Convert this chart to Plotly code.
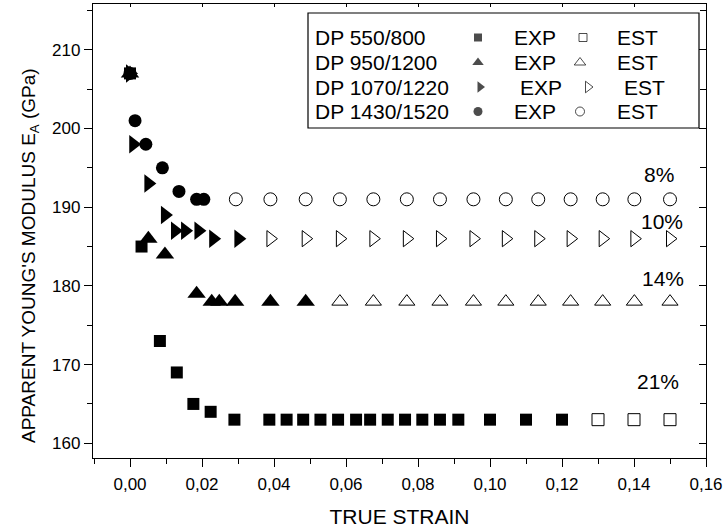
import plotly.graph_objects as go

# ---------------- data ----------------
# DP 550/800
sq_exp_x = [0.0, 0.0032, 0.0083, 0.013, 0.0176, 0.0224, 0.029, 0.0387, 0.0435, 0.0481,
            0.0529, 0.0578, 0.0628, 0.0667, 0.0716, 0.0764, 0.0812, 0.0861, 0.0912,
            0.10, 0.11, 0.12]
sq_exp_y = [207, 185, 173, 169, 165, 164, 163, 163, 163, 163,
            163, 163, 163, 163, 163, 163, 163, 163, 163,
            163, 163, 163]
sq_est_x = [0.13, 0.14, 0.15]
sq_est_y = [163, 163, 163]

# DP 950/1200
tu_exp_x = [0.0, 0.0051, 0.0097, 0.0185, 0.0227, 0.0248, 0.0292, 0.039, 0.0488]
tu_exp_y = [207, 186, 184, 179, 178, 178, 178, 178, 178]
tu_est_x = [0.0583, 0.0676, 0.0769, 0.0861, 0.0954, 0.1044, 0.1134, 0.1224, 0.1313, 0.1401, 0.15]
tu_est_y = [178, 178, 178, 178, 178, 178, 178, 178, 178, 178, 178]

# DP 1070/1220
tr_exp_x = [0.0, 0.0009, 0.0051, 0.0097, 0.0125, 0.0153, 0.019, 0.0231, 0.0301]
tr_exp_y = [207, 198, 193, 189, 187, 187, 187, 186, 186]
tr_est_x = [0.039, 0.0488, 0.0583, 0.0676, 0.0769, 0.0861, 0.0954, 0.1044, 0.1134,
            0.1224, 0.1313, 0.1401, 0.15]
tr_est_y = [186, 186, 186, 186, 186, 186, 186, 186, 186, 186, 186, 186, 186]

# DP 1430/1520
ci_exp_x = [0.0, 0.0014, 0.0044, 0.009, 0.0136, 0.0185, 0.0205]
ci_exp_y = [207, 201, 198, 195, 192, 191, 191]
ci_est_x = [0.0294, 0.039, 0.0488, 0.0583, 0.0676, 0.0769, 0.0861, 0.0954, 0.1044,
            0.1134, 0.1224, 0.1313, 0.1401, 0.15]
ci_est_y = [191, 191, 191, 191, 191, 191, 191, 191, 191, 191, 191, 191, 191, 191]

series_names = ["DP 550/800", "DP 950/1200", "DP 1070/1220", "DP 1430/1520"]
pct_labels = ["8%", "10%", "14%", "21%"]
pct_x = [0.147, 0.1477, 0.148, 0.1467]
pct_y = [194.1, 188.2, 181.0, 167.9]

FONT = "Liberation Sans, Arial, sans-serif"
BLACK = "black"

fig = go.Figure()

def add(x, y, symbol, size, filled):
    if filled:
        m = dict(symbol=symbol, size=size, color=BLACK, line=dict(width=0))
    else:
        m = dict(symbol=symbol, size=size, color=BLACK, line=dict(width=1, color=BLACK))
    fig.add_trace(go.Scatter(x=x, y=y, mode="markers", marker=m,
                             showlegend=False, hoverinfo="x+y"))

add(sq_est_x, sq_est_y, "square-open", 12, False)
add(tu_est_x, tu_est_y, "triangle-up-open", 14, False)
add(tr_est_x, tr_est_y, "triangle-right-open", 14, False)
add(ci_est_x, ci_est_y, "circle-open", 13, False)
add(sq_exp_x, sq_exp_y, "square", 12, True)
add(tu_exp_x, tu_exp_y, "triangle-up", 16, True)
add(tr_exp_x, tr_exp_y, "triangle-right", 16, True)
add(ci_exp_x, ci_exp_y, "circle", 13, True)

# dummy trace so mirrored top/right axes get drawn
fig.add_trace(go.Scatter(x=[None], y=[None], xaxis="x2", yaxis="y2",
                         showlegend=False, hoverinfo="skip"))

# ---------------- legend (drawn in pixel coordinates on hidden axes x3/y3) ----------------
row_y = [37.5, 62.5, 87, 111.5]
exp_sym = ["square", "triangle-up", "triangle-right", "circle"]
est_sym = ["square-open", "triangle-up-open", "triangle-right-open", "circle-open"]
exp_mx = [478, 478, 480, 478]
est_mx = [583, 580, 588, 580]
exp_tx = [512, 512, 518, 512]
est_tx = [615, 615, 622, 615]
leg_sizes = [8, 10, 10, 9]

fig.add_trace(go.Scatter(x=exp_mx, y=row_y, mode="markers", xaxis="x3", yaxis="y3",
                         marker=dict(symbol=exp_sym, size=leg_sizes, color=BLACK, line=dict(width=0)),
                         showlegend=False, hoverinfo="skip"))
fig.add_trace(go.Scatter(x=est_mx, y=row_y, mode="markers", xaxis="x3", yaxis="y3",
                         marker=dict(symbol=est_sym, size=leg_sizes, color=BLACK,
                                     line=dict(width=1, color=BLACK)),
                         showlegend=False, hoverinfo="skip"))

annotations = []
LEG_FS = 21
for i, name in enumerate(series_names):
    annotations.append(dict(x=313, y=row_y[i], xref="x3", yref="y3", text=name,
                            showarrow=False, xanchor="left", yanchor="middle",
                            font=dict(family=FONT, size=LEG_FS, color=BLACK)))
    annotations.append(dict(x=exp_tx[i], y=row_y[i], xref="x3", yref="y3", text="EXP",
                            showarrow=False, xanchor="left", yanchor="middle",
                            font=dict(family=FONT, size=LEG_FS, color=BLACK)))
    annotations.append(dict(x=est_tx[i], y=row_y[i], xref="x3", yref="y3", text="EST",
                            showarrow=False, xanchor="left", yanchor="middle",
                            font=dict(family=FONT, size=LEG_FS, color=BLACK)))
for t, x, y in zip(pct_labels, pct_x, pct_y):
    annotations.append(dict(x=x, y=y, xref="x", yref="y", text=t, showarrow=False,
                            xanchor="center", yanchor="middle",
                            font=dict(family=FONT, size=21, color=BLACK)))

# y-axis title, placed like the original (a little below the plot centre)
PLOT_L, PLOT_R, PLOT_T, PLOT_B = 93, 706, 4, 458
ytitle_px, ytitle_py = 30, 256
annotations.append(dict(x=(ytitle_px - PLOT_L) / (PLOT_R - PLOT_L),
                        y=1 - (ytitle_py - PLOT_T) / (PLOT_B - PLOT_T),
                        xref="paper", yref="paper", textangle=-90,
                        text="APPARENT YOUNG'S MODULUS E<sub>A</sub> (GPa)", showarrow=False,
                        xanchor="center", yanchor="middle",
                        font=dict(family=FONT, size=19, color=BLACK)))

shapes = [dict(type="rect", xref="x3", yref="y3", x0=308, x1=699, y0=13, y1=128,
               line=dict(color=BLACK, width=1.2), fillcolor="rgba(0,0,0,0)", layer="below")]

XR = [-0.01028, 0.16]
YR = [158.13, 215.82]

axis_common = dict(showline=True, linecolor=BLACK, linewidth=1.3, showgrid=False,
                   zeroline=False, tickcolor=BLACK, tickwidth=1.3)

fig.update_layout(
    width=726, height=529,
    margin=dict(l=PLOT_L, r=726 - PLOT_R, t=PLOT_T, b=529 - PLOT_B),
    paper_bgcolor="white", plot_bgcolor="white",
    separators=", ",
    font=dict(family=FONT, size=17, color=BLACK),
    xaxis=dict(range=XR, ticks="outside", ticklen=8, dtick=0.02, tick0=0, tickformat=".2f",
               minor=dict(ticks="outside", ticklen=5, dtick=0.01, tickwidth=1.3, tickcolor=BLACK),
               tickfont=dict(family=FONT, size=17), ticklabelstandoff=2,
               title=dict(text="TRUE STRAIN", font=dict(family=FONT, size=21), standoff=16),
               **axis_common),
    yaxis=dict(range=YR, ticks="outside", ticklen=8, dtick=10, tick0=160,
               minor=dict(ticks="outside", ticklen=5, dtick=5, tickwidth=1.3, tickcolor=BLACK),
               tickfont=dict(family=FONT, size=17),
               **axis_common),
    xaxis2=dict(range=XR, overlaying="x", side="top", ticks="inside", ticklen=3, dtick=0.02,
                tick0=0, showticklabels=False, **axis_common),
    yaxis2=dict(range=YR, overlaying="y", side="right", ticks="inside", ticklen=7, dtick=10,
                tick0=160, showticklabels=False,
                minor=dict(ticks="inside", ticklen=6, dtick=5, tickwidth=1.3, tickcolor=BLACK),
                **axis_common),
    xaxis3=dict(range=[PLOT_L, PLOT_R], overlaying="x", visible=False, fixedrange=True),
    yaxis3=dict(range=[PLOT_B, PLOT_T], overlaying="y", visible=False, fixedrange=True),
    annotations=annotations,
    shapes=shapes,
)

fig.write_html("out.html", config={"displayModeBar": False},
               post_script="document.body.style.margin='0px';document.body.style.padding='0px';")
